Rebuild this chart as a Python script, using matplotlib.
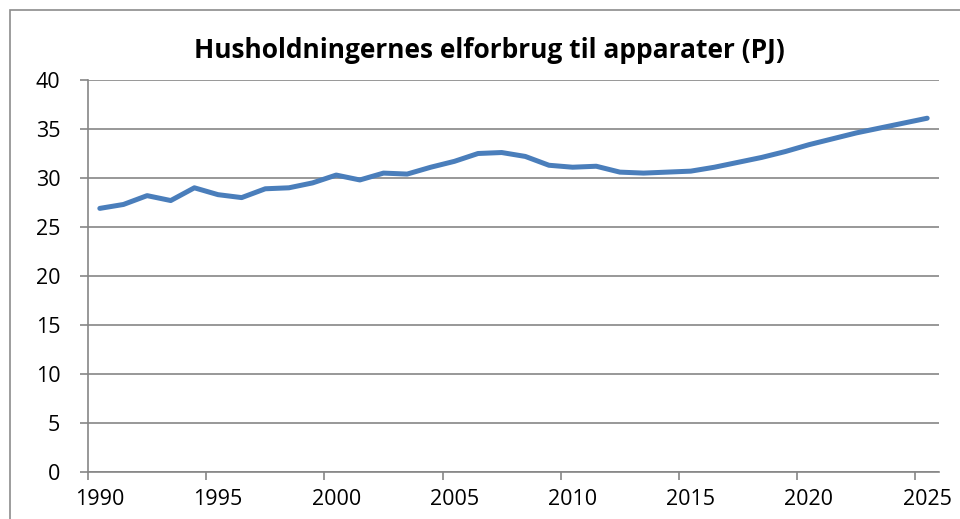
import matplotlib
matplotlib.use('Agg')
import matplotlib.pyplot as plt
from matplotlib.patches import Rectangle

# Husholdningernes elforbrug til apparater (PJ)
years = list(range(1990, 2026))
values = [26.9, 27.3, 28.2, 27.7, 29.0, 28.3, 28.0, 28.9, 29.0, 29.5,
          30.3, 29.8, 30.5, 30.4, 31.1, 31.7, 32.5, 32.6, 32.2, 31.3,
          31.1, 31.2, 30.6, 30.5, 30.6, 30.7, 31.1, 31.6, 32.1, 32.7,
          33.4, 34.0, 34.6, 35.1, 35.6, 36.1]
label_years = [1990, 1995, 2000, 2005, 2010, 2015, 2020, 2025]
y_ticks = [0, 5, 10, 15, 20, 25, 30, 35, 40]
title = 'Husholdningernes elforbrug til apparater (PJ)'

plt.rcParams['font.family'] = ['Open Sans', 'DejaVu Sans']
grid_col = '#868686'

fig = plt.figure(figsize=(9.6, 5.19), dpi=100)
ax = fig.add_axes([88 / 960, 1 - 472 / 519, (939 - 88) / 960, (472 - 80) / 519])

ax.plot(years, values, color='#4A7EBB', linewidth=3.6, solid_joinstyle='round',
        solid_capstyle='round', zorder=3)

ax.set_xlim(years[0] - 0.5, years[-1] + 0.5)
ax.set_ylim(0, 40)
ax.set_yticks(y_ticks)
ax.set_yticklabels([str(v) for v in y_ticks], fontsize=15.5)

# category axis: tick marks at boundaries, labels at category centres
ax.set_xticks([y - 0.5 for y in label_years])
ax.set_xticklabels([])
ax.set_xticks(label_years, minor=True)
ax.set_xticklabels([str(y) for y in label_years], minor=True, fontsize=15.5)
ax.tick_params(axis='x', which='major', length=6, width=1.2, color=grid_col, direction='out')
ax.tick_params(axis='x', which='minor', length=0, pad=12)
ax.tick_params(axis='y', length=6, width=1.2, color=grid_col, direction='out', pad=14)

ax.grid(axis='y', color=grid_col, linewidth=1.2)
for side in ['top', 'right']:
    ax.spines[side].set_visible(False)
for side in ['left', 'bottom']:
    ax.spines[side].set_color(grid_col)
    ax.spines[side].set_linewidth(1.2)

fig.text(489 / 960, 1 - 50 / 519, title, ha='center', va='center',
         fontsize=19, fontweight='bold')

# chart border (cut off at right and bottom in the reference)
fig.patches.append(Rectangle((10 / 960, -0.1), 1.2, 1 - 10 / 519 + 0.1,
                             transform=fig.transFigure, fill=False,
                             edgecolor='#8c8c8c', linewidth=1.2))

fig.savefig('out.png', dpi=100)
